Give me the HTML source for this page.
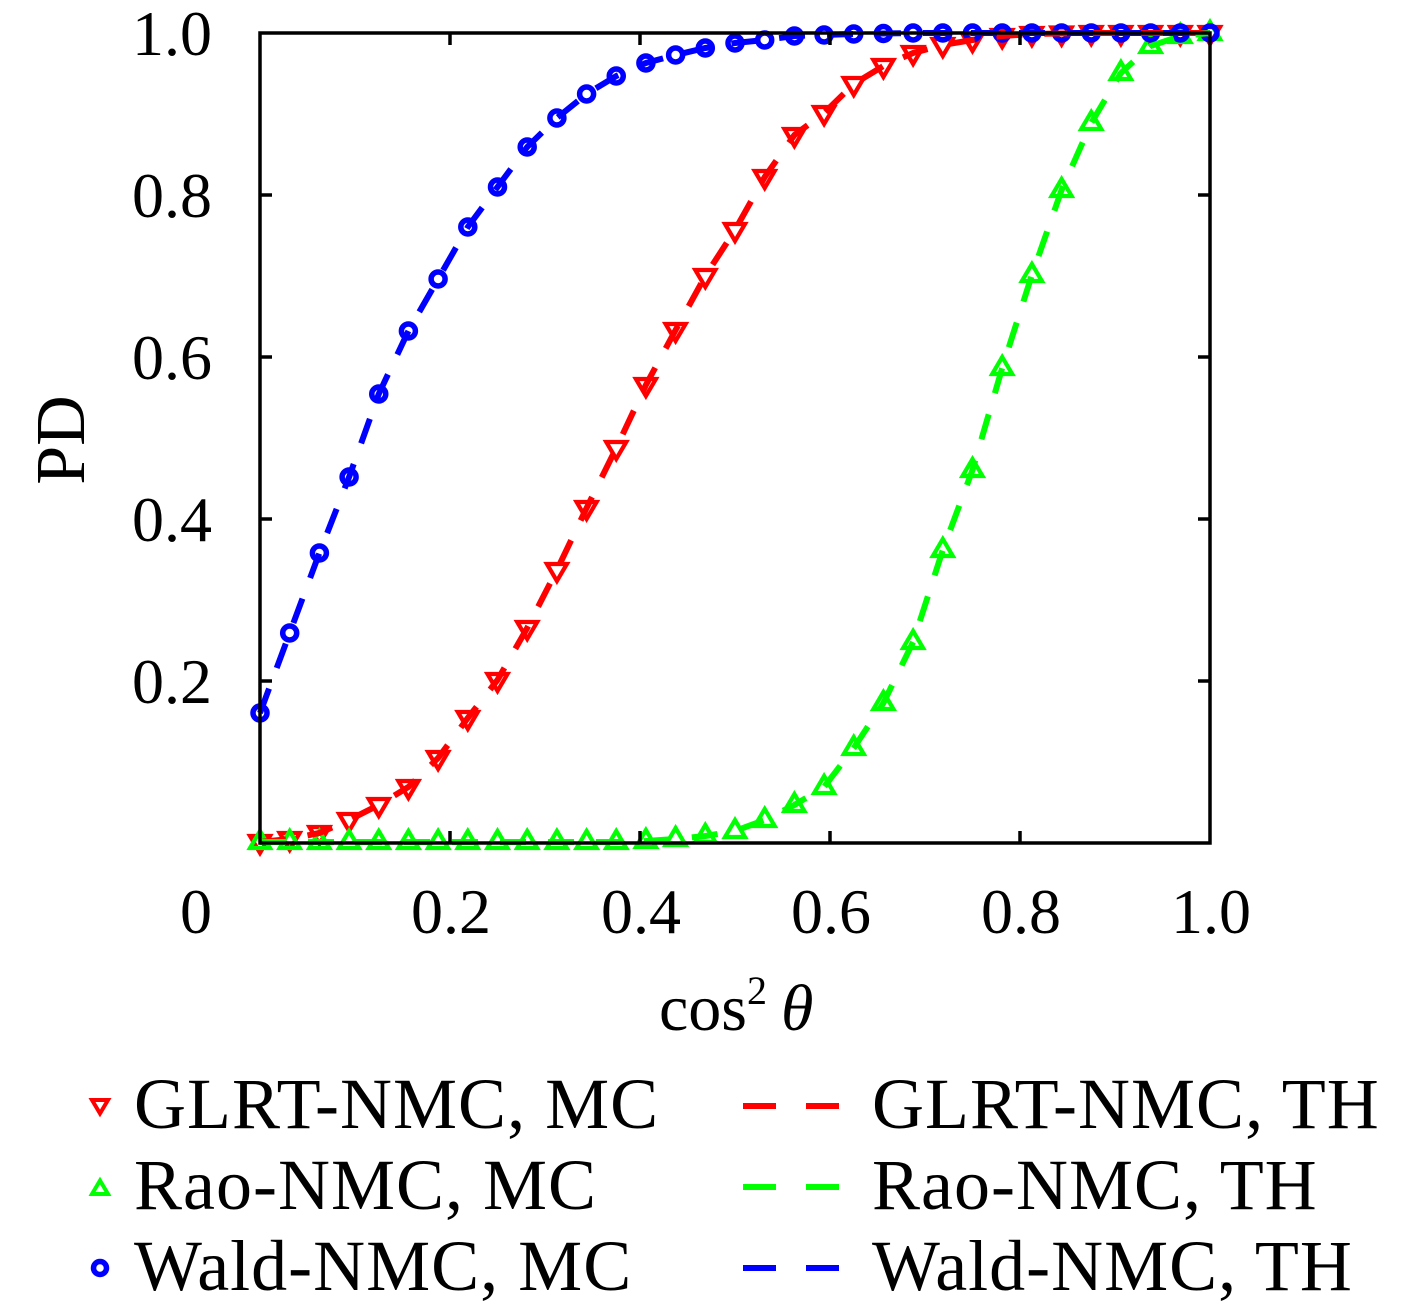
<!DOCTYPE html>
<html><head><meta charset="utf-8"><style>
html,body{margin:0;padding:0;background:#fff;}
svg{display:block;}
text{font-family:"Liberation Serif",serif;fill:#000;}
</style></head><body>
<svg width="1417" height="1313" viewBox="0 0 1417 1313" xmlns="http://www.w3.org/2000/svg">
<rect x="0" y="0" width="1417" height="1313" fill="#fff"/>

<!-- MC markers: red (down triangles) -->
<g fill="none" stroke="#ff0000" stroke-width="4.2" stroke-linejoin="miter">
<path d="
M250,836h20l-10,17z M279.7,833h20l-10,17z M309.4,827h20l-10,17z M339.1,814h20l-10,17z
M368.75,799h20l-10,17z M398.4,781h20l-10,17z M428.1,752h20l-10,17z M457.8,712h20l-10,17z
M487.5,674h20l-10,17z M517.2,622h20l-10,17z M546.9,564h20l-10,17z M576.6,502h20l-10,17z
M606.25,442h20l-10,17z M635.9,379h20l-10,17z M665.6,324h20l-10,17z M695.3,270h20l-10,17z
M725,224h20l-10,17z M754.7,171h20l-10,17z M784.4,129h20l-10,17z M814.1,107h20l-10,17z
M843.75,78h20l-10,17z M873.4,60h20l-10,17z M903.1,47h20l-10,17z M932.8,39h20l-10,17z
M962.5,34h20l-10,17z M992.2,30h20l-10,17z M1021.9,28h20l-10,17z M1051.6,27.5h20l-10,17z
M1081.25,27h20l-10,17z M1110.9,27h20l-10,17z M1140.6,27h20l-10,17z M1170.3,27h20l-10,17z M1200,27h20l-10,17z"/>
</g>
<!-- green (up triangles) -->
<g fill="none" stroke="#00ff00" stroke-width="4.2" stroke-linejoin="miter">
<path d="
M250,848h20l-10,-17z M279.7,848h20l-10,-17z M309.4,848h20l-10,-17z M339.1,848h20l-10,-17z
M368.75,848h20l-10,-17z M398.4,848h20l-10,-17z M428.1,848h20l-10,-17z M457.8,848h20l-10,-17z
M487.5,848h20l-10,-17z M517.2,848h20l-10,-17z M546.9,848h20l-10,-17z M576.6,848h20l-10,-17z
M606.25,848h20l-10,-17z M635.9,847h20l-10,-17z M665.6,845h20l-10,-17z M695.3,842h20l-10,-17z
M725,837h20l-10,-17z M754.7,826h20l-10,-17z M784.4,811h20l-10,-17z M814.1,793h20l-10,-17z
M843.75,754h20l-10,-17z M873.4,709h20l-10,-17z M903.1,648h20l-10,-17z M932.8,556h20l-10,-17z
M962.5,476h20l-10,-17z M992.2,374h20l-10,-17z M1021.9,281h20l-10,-17z M1051.6,196h20l-10,-17z
M1081.25,129h20l-10,-17z M1110.9,79h20l-10,-17z M1140.6,52h20l-10,-17z M1170.3,42h20l-10,-17z M1200,39h20l-10,-17z"/>
</g>
<!-- blue circles -->
<g fill="none" stroke="#0000ff" stroke-width="5.5">
<circle cx="260" cy="713" r="7"/><circle cx="289.7" cy="633" r="7"/><circle cx="319.4" cy="553" r="7"/>
<circle cx="349.1" cy="477" r="7"/><circle cx="378.75" cy="394" r="7"/><circle cx="408.4" cy="331" r="7"/>
<circle cx="438.1" cy="279" r="7"/><circle cx="467.8" cy="227" r="7"/><circle cx="497.5" cy="187" r="7"/>
<circle cx="527.2" cy="147" r="7"/><circle cx="556.9" cy="118" r="7"/><circle cx="586.6" cy="94" r="7"/>
<circle cx="616.25" cy="76" r="7"/><circle cx="645.9" cy="63" r="7"/><circle cx="675.6" cy="55" r="7"/>
<circle cx="705.3" cy="48" r="7"/><circle cx="735" cy="43" r="7"/><circle cx="764.7" cy="40" r="7"/>
<circle cx="794.4" cy="36" r="7"/><circle cx="824.1" cy="35" r="7"/><circle cx="853.75" cy="34" r="7"/>
<circle cx="883.4" cy="33.5" r="7"/><circle cx="913.1" cy="33" r="7"/><circle cx="942.8" cy="33" r="7"/>
<circle cx="972.5" cy="33" r="7"/><circle cx="1002.2" cy="33" r="7"/><circle cx="1031.9" cy="33" r="7"/>
<circle cx="1061.6" cy="33" r="7"/><circle cx="1091.25" cy="33" r="7"/><circle cx="1120.9" cy="33" r="7"/>
<circle cx="1150.6" cy="33" r="7"/><circle cx="1180.3" cy="33" r="7"/><circle cx="1210" cy="33" r="7"/>
</g>

<!-- TH dashed lines -->
<g fill="none" stroke-width="6" stroke-dasharray="26 22">
<polyline stroke="#ff0000" points="260,842 289.7,839 319.4,833 349.1,820 378.75,805 408.4,787 438.1,758 467.8,718 497.5,680 527.2,628 556.9,570 586.6,508 616.25,448 645.9,385 675.6,330 705.3,276 735,230 764.7,177 794.4,135 824.1,113 853.75,84 883.4,66 913.1,53 942.8,45 972.5,40 1002.2,36 1031.9,34 1061.6,33.5 1091.25,33 1120.9,33 1150.6,33 1180.3,33 1210,33"/>
<polyline stroke="#00ff00" points="260,842 289.7,842 319.4,842 349.1,842 378.75,842 408.4,842 438.1,842 467.8,842 497.5,842 527.2,842 556.9,842 586.6,842 616.25,842 645.9,841 675.6,839 705.3,836 735,831 764.7,820 794.4,805 824.1,787 853.75,748 883.4,703 913.1,642 942.8,550 972.5,470 1002.2,368 1031.9,275 1061.6,190 1091.25,123 1120.9,73 1150.6,46 1180.3,36 1210,33"/>
<polyline stroke="#0000ff" points="260,713 289.7,633 319.4,553 349.1,477 378.75,394 408.4,331 438.1,279 467.8,227 497.5,187 527.2,147 556.9,118 586.6,94 616.25,76 645.9,63 675.6,55 705.3,48 735,43 764.7,40 794.4,36 824.1,35 853.75,34 883.4,33.5 913.1,33 942.8,33 972.5,33 1002.2,33 1031.9,33 1061.6,33 1091.25,33 1120.9,33 1150.6,33 1180.3,33 1210,33"/>
</g>

<!-- axes frame -->
<rect x="260" y="33" width="950" height="810" fill="none" stroke="#000" stroke-width="3.5"/>
<g stroke="#000" stroke-width="3.5">
<line x1="450" y1="843" x2="450" y2="831"/><line x1="640" y1="843" x2="640" y2="831"/>
<line x1="830" y1="843" x2="830" y2="831"/><line x1="1020" y1="843" x2="1020" y2="831"/>
<line x1="450" y1="33" x2="450" y2="45"/><line x1="640" y1="33" x2="640" y2="45"/>
<line x1="830" y1="33" x2="830" y2="45"/><line x1="1020" y1="33" x2="1020" y2="45"/>
<line x1="260" y1="681" x2="272" y2="681"/><line x1="260" y1="519" x2="272" y2="519"/>
<line x1="260" y1="357" x2="272" y2="357"/><line x1="260" y1="195" x2="272" y2="195"/>
<line x1="1210" y1="681" x2="1198" y2="681"/><line x1="1210" y1="519" x2="1198" y2="519"/>
<line x1="1210" y1="357" x2="1198" y2="357"/><line x1="1210" y1="195" x2="1198" y2="195"/>
</g>

<!-- y tick labels -->
<g font-size="64" text-anchor="end">
<text x="212" y="55">1.0</text>
<text x="212" y="217">0.8</text>
<text x="212" y="379">0.6</text>
<text x="212" y="541">0.4</text>
<text x="212" y="703">0.2</text>
</g>
<!-- x tick labels -->
<g font-size="64" text-anchor="middle">
<text x="196" y="933">0</text>
<text x="451" y="933">0.2</text>
<text x="641" y="933">0.4</text>
<text x="831" y="933">0.6</text>
<text x="1021" y="933">0.8</text>
<text x="1211" y="933">1.0</text>
</g>

<!-- axis labels -->
<text x="84" y="440" font-size="70" text-anchor="middle" transform="rotate(-90 84 440)">PD</text>
<text x="659" y="1030" font-size="66">cos<tspan font-size="40" dy="-26">2</tspan><tspan font-style="italic" dy="26" dx="14">θ</tspan></text>

<!-- legend -->
<path d="M92,1100h16l-8,13.5z" fill="none" stroke="#ff0000" stroke-width="4"/>
<path d="M92,1194h16l-8,-13.5z" fill="none" stroke="#00ff00" stroke-width="4"/>
<circle cx="100" cy="1268" r="6.5" fill="none" stroke="#0000ff" stroke-width="5.5"/>
<g font-size="72" letter-spacing="1">
<text x="134" y="1128">GLRT-NMC, MC</text>
<text x="134" y="1209">Rao-NMC, MC</text>
<text x="134" y="1290">Wald-NMC, MC</text>
<text x="872" y="1128">GLRT-NMC, TH</text>
<text x="872" y="1209">Rao-NMC, TH</text>
<text x="872" y="1290">Wald-NMC, TH</text>
</g>
<g stroke-width="6" stroke-dasharray="33 30">
<line x1="743" y1="1106" x2="840" y2="1106" stroke="#ff0000"/>
<line x1="743" y1="1187" x2="840" y2="1187" stroke="#00ff00"/>
<line x1="743" y1="1268" x2="840" y2="1268" stroke="#0000ff"/>
</g>
</svg>
</body></html>
